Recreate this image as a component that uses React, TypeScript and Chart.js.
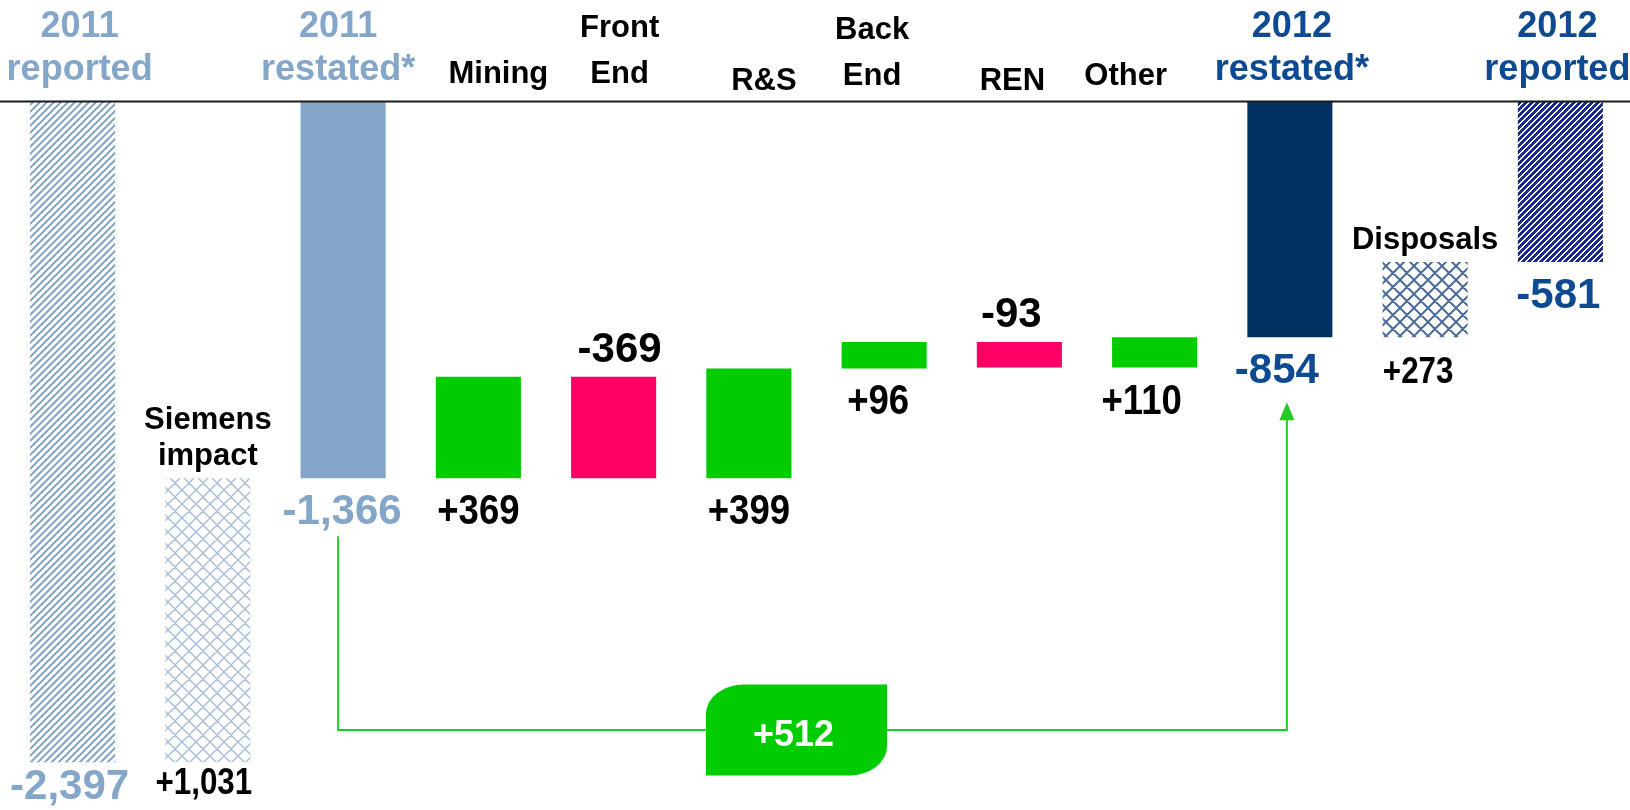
import React, { useEffect, useRef } from 'react';
import { Chart, registerables } from 'chart.js';

Chart.register(...registerables);

// ---------- data ----------
const categories = [
  '2011 reported', 'Siemens impact', '2011 restated*', 'Mining', 'Front End', 'R&S',
  'Back End', 'REN', 'Other', '2012 restated*', 'Disposals', '2012 reported',
];
const values = [-2397, 1031, -1366, 369, -369, 399, 96, -93, 110, -854, 273, -581];
const kinds = ['total', 'delta', 'total', 'delta', 'delta', 'delta', 'delta', 'delta', 'delta', 'total', 'delta', 'total'];
const bridgeFromIndex = 2;
const bridgeToIndex = 9;

// ---------- layout / style (not data) ----------
const FONT = "'Liberation Sans', Arial, Helvetica, sans-serif";
const LIGHT = '#84A6C8';
const NAVY_TXT = '#0D4A92';
const GREEN = '#00CC00';
const PINK = '#FF0066';
const namePlacement = ['top', 'above', 'top', 'top', 'top', 'top', 'top', 'top', 'top', 'top', 'above', 'top'];
const headerDx = [7, 0, -5, 20, 6, 15, -12, -7, -29, 2, 0, -3];
const headerBase = [80, 0, 80, 83, 83, 90, 85, 90, 85, 80, 0, 80];
const valueDx = [-3, -4, -1, 0, 6, 0, -6, -8, -13, -13, -7, -2];
const textColors = [LIGHT, '#000', LIGHT, '#000', '#000', '#000', '#000', '#000', '#000', NAVY_TXT, '#000', NAVY_TXT];

function fmt(v: number, kind: string) {
  const s = Math.abs(v).toLocaleString('en-US');
  if (kind === 'total') return (v < 0 ? '-' : '') + s;
  return (v < 0 ? '-' : '+') + s;
}

function hexToRgb(hex: string) {
  const n = parseInt(hex.slice(1), 16);
  return [(n >> 16) & 255, (n >> 8) & 255, n & 255];
}

// crisp "/" stripes: pixel on when (x+y) mod size < thick
function stripePattern(color: string, size: number, thick: number) {
  const c = document.createElement('canvas');
  c.width = size; c.height = size;
  const g = c.getContext('2d')!;
  const img = g.createImageData(size, size);
  const [r, gg, b] = hexToRgb(color);
  for (let y = 0; y < size; y++) {
    for (let x = 0; x < size; x++) {
      const on = ((x + y) % size) < thick;
      const o = (y * size + x) * 4;
      img.data[o] = on ? r : 255;
      img.data[o + 1] = on ? gg : 255;
      img.data[o + 2] = on ? b : 255;
      img.data[o + 3] = 255;
    }
  }
  g.putImageData(img, 0, 0);
  return g.createPattern(c, 'repeat')!;
}

function latticePattern(color: string, size: number, lw: number) {
  const c = document.createElement('canvas');
  c.width = size; c.height = size;
  const g = c.getContext('2d')!;
  g.fillStyle = '#fff'; g.fillRect(0, 0, size, size);
  g.strokeStyle = color; g.lineWidth = lw;
  g.beginPath();
  for (let k = -1; k <= 1; k++) {
    g.moveTo(k * size, size); g.lineTo(k * size + size, 0);
    g.moveTo(k * size, 0); g.lineTo(k * size + size, size);
  }
  g.stroke();
  return g.createPattern(c, 'repeat')!;
}

function drawText(ctx: CanvasRenderingContext2D, text: string, x: number, y: number, size: number, color: string, sx = 1) {
  ctx.save();
  ctx.font = `bold ${size}px ${FONT}`;
  ctx.fillStyle = color;
  ctx.textAlign = 'center';
  ctx.textBaseline = 'alphabetic';
  ctx.translate(x, y);
  ctx.scale(sx, 1);
  ctx.fillText(text, 0, 0);
  ctx.restore();
}

export default function App() {
  const ref = useRef<HTMLCanvasElement | null>(null);

  useEffect(() => {
    if (!ref.current) return;
    // floating bars for the waterfall
    let running = 0;
    const bars: [number, number][] = values.map((v, i) => {
      if (kinds[i] === 'total') { running = v; return [0, v]; }
      const b: [number, number] = [running, running + v];
      running += v;
      return b;
    });

    const fills = categories.map((_, i) => {
      if (i === 0) return stripePattern('#8DABCC', 7, 3);
      if (i === 1) return latticePattern('#AABFDA', 14, 1.5);
      if (i === 2) return LIGHT;
      if (i === 9) return '#003262';
      if (i === 10) return latticePattern('#4D6C98', 14, 2);
      if (i === 11) return stripePattern('#1C2A8A', 6, 3.5);
      return values[i] >= 0 ? GREEN : PINK;
    });

    const labelsPlugin = {
      id: 'waterfallLabels',
      afterDatasetsDraw(chart: any) {
        const ctx: CanvasRenderingContext2D = chart.ctx;
        const xs = chart.scales.x;
        const ys = chart.scales.y;
        const area = chart.chartArea;

        // axis line
        ctx.save();
        ctx.strokeStyle = '#1a1a1a';
        ctx.lineWidth = 2;
        ctx.beginPath();
        ctx.moveTo(0, area.top - 0.5);
        ctx.lineTo(chart.width, area.top - 0.5);
        ctx.stroke();
        ctx.restore();

        categories.forEach((name, i) => {
          const cx = xs.getPixelForValue(i);
          const p0 = ys.getPixelForValue(bars[i][0]);
          const p1 = ys.getPixelForValue(bars[i][1]);
          const top = Math.min(p0, p1);
          const bottom = Math.max(p0, p1);
          const words = name.split(' ');
          const isYear = kinds[i] === 'total';

          // category names
          if (namePlacement[i] === 'top') {
            const size = isYear ? 36 : 31;
            const gap = isYear ? 43 : 46;
            const n = words.length;
            words.forEach((w, k) => {
              drawText(ctx, w, cx + headerDx[i], headerBase[i] - (n - 1 - k) * gap, size, textColors[i]);
            });
          } else {
            const n = words.length;
            words.forEach((w, k) => {
              drawText(ctx, w, cx, top - 13 - (n - 1 - k) * 36, 31, '#000');
            });
          }

          // value labels
          const label = fmt(values[i], kinds[i]);
          const vx = cx + valueDx[i];
          if (kinds[i] === 'total') {
            drawText(ctx, label, vx, Math.min(bottom + 46, 799), 42, textColors[i]);
          } else if (values[i] >= 0) {
            const small = namePlacement[i] === 'above';
            drawText(ctx, label, vx, Math.min(bottom + 46, 794), small ? 36 : 42, '#000', 0.87);
          } else {
            drawText(ctx, label, vx, top - 15, 42, '#000');
          }
        });

        // bridge between restated totals
        const xA = xs.getPixelForValue(bridgeFromIndex) - 5;
        const xB = xs.getPixelForValue(bridgeToIndex) - 3;
        const yA = ys.getPixelForValue(values[bridgeFromIndex]) + 58;
        const yB = ys.getPixelForValue(values[bridgeToIndex]) + 65;
        const yLine = area.bottom - 80;
        ctx.save();
        ctx.strokeStyle = '#22CC22';
        ctx.lineWidth = 2;
        ctx.beginPath();
        ctx.moveTo(xA, yA);
        ctx.lineTo(xA, yLine);
        ctx.lineTo(xB, yLine);
        ctx.lineTo(xB, yB + 16);
        ctx.stroke();
        ctx.fillStyle = '#22CC22';
        ctx.beginPath();
        ctx.moveTo(xB, yB);
        ctx.lineTo(xB - 7.5, yB + 18);
        ctx.lineTo(xB + 7.5, yB + 18);
        ctx.closePath();
        ctx.fill();

        // badge
        const bcx = (xs.getPixelForValue(5) + xs.getPixelForValue(6)) / 2 - 20;
        const bw = 181, bh = 91, rx = 38, ry = 29;
        const L = bcx - bw / 2, R = bcx + bw / 2, T = yLine - bh / 2, B = yLine + bh / 2;
        ctx.fillStyle = GREEN;
        ctx.beginPath();
        ctx.moveTo(L + rx, T);
        ctx.lineTo(R, T);
        ctx.lineTo(R, B - ry);
        ctx.ellipse(R - rx, B - ry, rx, ry, 0, 0, Math.PI / 2);
        ctx.lineTo(L, B);
        ctx.lineTo(L, T + ry);
        ctx.ellipse(L + rx, T + ry, rx, ry, 0, Math.PI, Math.PI * 1.5);
        ctx.closePath();
        ctx.fill();
        ctx.restore();
        const diff = values[bridgeToIndex] - values[bridgeFromIndex];
        drawText(ctx, fmt(diff, 'delta'), bcx - 3, yLine + 16, 36, '#fff');
      },
    };

    const chart = new Chart(ref.current, {
      type: 'bar',
      data: {
        labels: categories,
        datasets: [{
          data: bars as any,
          backgroundColor: fills as any,
          borderWidth: 0,
          borderSkipped: false,
          barPercentage: 0.629,
          categoryPercentage: 1,
        }],
      },
      options: {
        animation: false,
        responsive: false,
        devicePixelRatio: 1,
        layout: { padding: { left: 5, right: 2, top: 102, bottom: 0 } },
        scales: {
          x: { display: false },
          y: { display: false, min: -2570, max: 0 },
        },
        plugins: { legend: { display: false }, tooltip: { enabled: false } },
      },
      plugins: [labelsPlugin],
    });
    return () => chart.destroy();
  }, []);

  return (
    <div style={{ position: 'fixed', left: 0, top: 0, width: 1630, height: 810, background: '#fff' }}>
      <canvas ref={ref} width={1630} height={810} style={{ display: 'block', width: 1630, height: 810 }} />
    </div>
  );
}
